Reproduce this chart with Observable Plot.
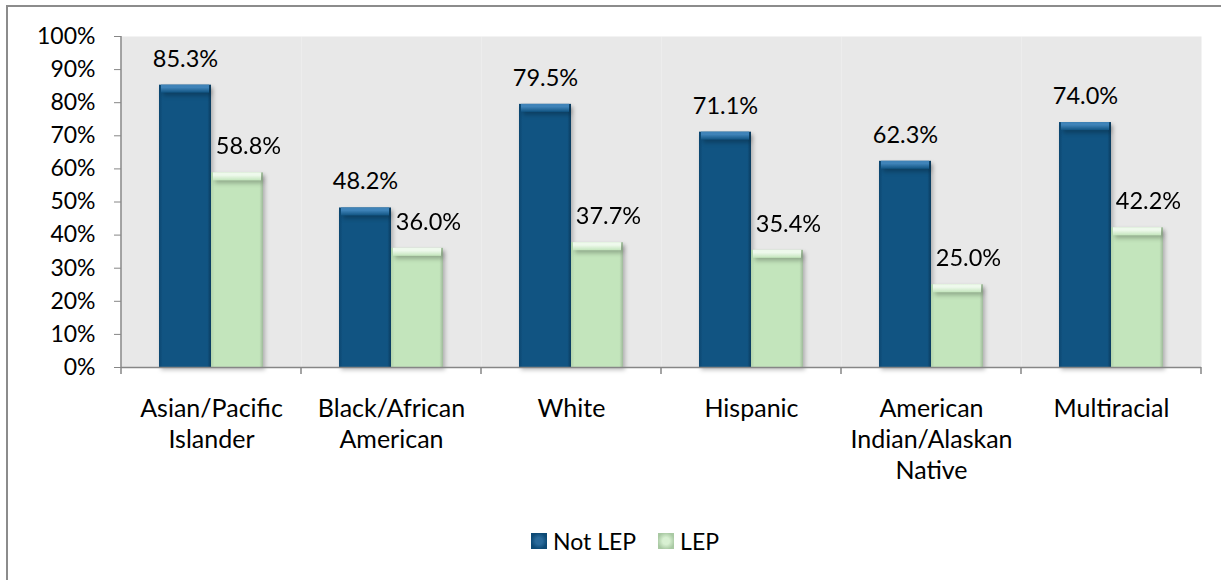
<!DOCTYPE html>
<html><head><meta charset="utf-8">
<script src="https://cdn.jsdelivr.net/npm/d3@7"></script>
<script src="https://cdn.jsdelivr.net/npm/@observablehq/plot@0.6"></script>
<style>
html,body{margin:0;padding:0;background:#fff;}
body{width:1221px;height:580px;overflow:hidden;position:relative;font-family:Lato,"Open Sans",sans-serif;}
#frame{position:absolute;left:6px;top:5px;width:1400px;height:800px;border-left:2px solid #8c8c8c;border-top:2px solid #8c8c8c;}
#chart{position:absolute;left:0;top:0;}
#legend{position:absolute;left:531px;top:527px;display:flex;align-items:center;font-size:23px;color:#000;}
.sw{width:16px;height:16px;margin-right:6px;box-sizing:border-box;}
.item{display:flex;align-items:center;margin-right:22px;}
</style>
</head><body>
<div id="frame"></div>
<div id="chart"></div>
<div id="legend"></div>
<script>
const categories = ["Asian/Pacific\nIslander","Black/African\nAmerican","White","Hispanic","American\nIndian/Alaskan\nNative","Multiracial"];
const notLep = [85.3,48.2,79.5,71.1,62.3,74.0];
const lep = [58.8,36.0,37.7,35.4,25.0,42.2];
const series = ["Not LEP","LEP"];
const yTicks = [0,10,20,30,40,50,60,70,80,90,100];
const seriesFill = {"Not LEP":"url(#gBlue)","LEP":"url(#gGreen)"};
const seriesTop = {"Not LEP":"url(#tBlue)","LEP":"url(#tGreen)"};

const rows = categories.flatMap((c,i)=>[
  {category:c, series:"Not LEP", value:notLep[i]},
  {category:c, series:"LEP", value:lep[i]}
]);
const fmt = d=>d.value.toFixed(1)+"%";

const chart = Plot.plot({
  width:1221, height:500,
  marginLeft:121, marginRight:20, marginTop:36, marginBottom:133,
  style:{fontFamily:"Lato, 'Open Sans', sans-serif", fontSize:"23px", color:"#000", background:"transparent", overflow:"visible"},
  fx:{domain:categories, padding:0, axis:null, label:null},
  x:{domain:series, paddingInner:0, paddingOuter:0.73, align:0.5, axis:null, label:null},
  y:{domain:[0,100], axis:null, label:null},
  marks:[
    Plot.frame({fill:"#e8e8e8", stroke:"none"}),
    Plot.axisY({ticks:yTicks, tickFormat:d=>d+"%", tickSize:7, tickPadding:19, stroke:"#868686", fontSize:23, fill:"#000", label:null}),
    Plot.axisFx({anchor:"bottom", tickSize:0, tickPadding:27, fontSize:25, lineHeight:1.24, fill:"#000", label:null}),
    Plot.barY(rows, {fx:"category", x:"series", y:"value", fill:d=>seriesFill[d.series]}),
    Plot.barY(rows, {fx:"category", x:"series", y1:"value", y2:"value", insetBottom:-8, insetLeft:2, insetRight:2, fill:d=>seriesTop[d.series]}),
    Plot.ruleY([0], {stroke:"#868686", strokeWidth:1.5}),
    Plot.text(rows.filter(d=>d.series==="Not LEP"), {fx:"category", x:"series", y:"value", text:fmt, dy:-26, lineAnchor:"middle", fontSize:23.5, fill:"#000"}),
    Plot.text(rows.filter(d=>d.series==="LEP"), {fx:"category", x:"series", y:"value", text:fmt, dx:11, dy:-26, lineAnchor:"middle", fontSize:23.5, fill:"#000"})
  ]
});
document.getElementById("chart").appendChild(chart);

const svg = d3.select(chart);
const defs = svg.insert("defs", ":first-child");
function hgrad(id, edgeL, mid, edgeR){
  const g = defs.append("linearGradient").attr("id", id).attr("x1","0").attr("x2","1").attr("y1","0").attr("y2","0");
  g.append("stop").attr("offset","0").attr("stop-color", edgeL);
  g.append("stop").attr("offset","0.07").attr("stop-color", mid);
  g.append("stop").attr("offset","0.93").attr("stop-color", mid);
  g.append("stop").attr("offset","1").attr("stop-color", edgeR);
}
function vgrad(id, top, bottom){
  const g = defs.append("linearGradient").attr("id", id).attr("x1","0").attr("x2","0").attr("y1","0").attr("y2","1");
  g.append("stop").attr("offset","0").attr("stop-color", top);
  g.append("stop").attr("offset","0.35").attr("stop-color", top);
  g.append("stop").attr("offset","1").attr("stop-color", bottom);
}
hgrad("gBlue", "#0c4670", "#115482", "#0a3b5e");
hgrad("gGreen", "#b3d4ac", "#c3e5bc", "#9fb99a");
vgrad("tBlue", "#3f83b8", "#115482");
vgrad("tGreen", "#eef9ec", "#c3e5bc");

// bar shadows
svg.selectAll('g[aria-label="bar"]').style("filter","drop-shadow(2px 3px 2px rgba(0,0,0,0.25))");

// axis lines and category boundary ticks from the plot's scales
const fx = chart.scale("fx"), y = chart.scale("y");
const y0 = y.apply(0), y100 = y.apply(100);
const left = fx.apply(categories[0]);
const g = svg.append("g").attr("stroke","#868686").attr("stroke-width",1.5);
g.append("line").attr("x1",left).attr("x2",left).attr("y1",y100).attr("y2",y0);
const bounds = categories.map(c=>fx.apply(c)).concat([fx.apply(categories[categories.length-1]) + fx.bandwidth]);
bounds.forEach(b=>g.append("line").attr("x1",b).attr("x2",b).attr("y1",y0).attr("y2",y0+7));

// legend
const legendFill = {
  "Not LEP":"radial-gradient(circle, #2a6a9a 30%, #0d4a75 70%)",
  "LEP":"radial-gradient(circle, #d8f0d2 30%, #a9c9a3 75%)"
};
const lg = d3.select("#legend");
series.forEach(s=>{
  const it = lg.append("div").attr("class","item");
  it.append("div").attr("class","sw").style("background", legendFill[s]);
  it.append("span").text(s);
});
</script>
</body></html>
